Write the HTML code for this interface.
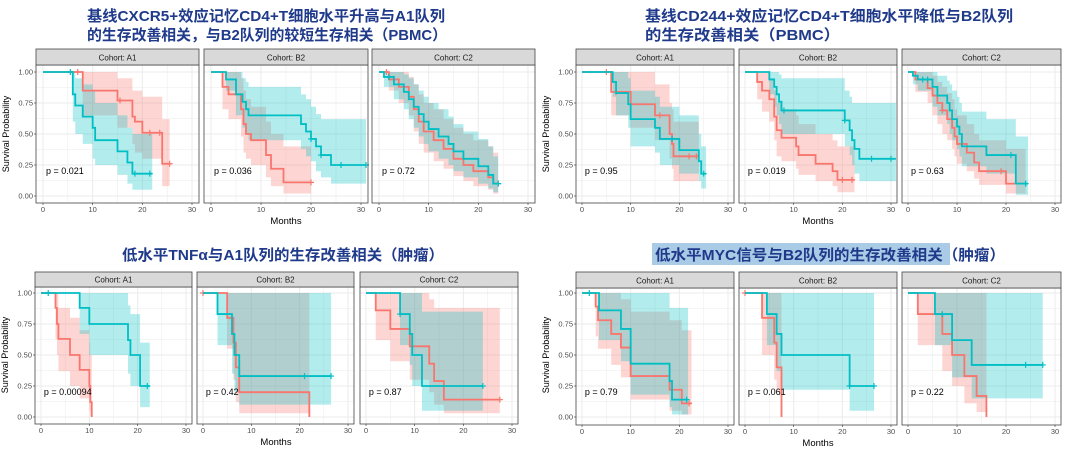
<!DOCTYPE html>
<html><head><meta charset="utf-8"><style>
body{margin:0;background:#fff}
svg{display:block}
</style></head><body>
<svg id="s" width="1080" height="451" xmlns="http://www.w3.org/2000/svg" font-family="Liberation Sans, sans-serif">
<rect width="1080" height="451" fill="#fff"/>
<rect x="652" y="243" width="298" height="22" fill="#a9cbe6"/>
<g font-family="Liberation Sans, 'Noto Sans CJK SC', sans-serif" font-weight="bold" font-size="15" fill="#1f3a8a">
<text x="87" y="21" textLength="358" lengthAdjust="spacingAndGlyphs">基线CXCR5+效应记忆CD4+T细胞水平升高与A1队列</text>
<text x="87" y="40" textLength="360" lengthAdjust="spacingAndGlyphs">的生存改善相关，与B2队列的较短生存相关（PBMC）</text>
<text x="645" y="21" textLength="368" lengthAdjust="spacingAndGlyphs">基线CD244+效应记忆CD4+T细胞水平降低与B2队列</text>
<text x="645" y="40" textLength="195" lengthAdjust="spacingAndGlyphs">的生存改善相关（PBMC）</text>
<text x="122" y="260" textLength="322" lengthAdjust="spacingAndGlyphs">低水平TNFα与A1队列的生存改善相关（肿瘤）</text>
<text x="655" y="260" textLength="350" lengthAdjust="spacingAndGlyphs">低水平MYC信号与B2队列的生存改善相关（肿瘤）</text>
</g>
<g id="g"></g>
</svg>
<script>
var NS="http://www.w3.org/2000/svg",G=document.getElementById('g'),out="";
function panel(L,R,st,sb,y1,y0,bot,lab,showY,pv,red,teal,dx){
 dx=dx||7;var x0=L+dx,x30=R-dx;
 var X=function(t){return x0+(x30-x0)*t/30},Y=function(s){return y0+(y1-y0)*s};
 var o="";
 o+='<rect x="'+L+'" y="'+sb+'" width="'+(R-L)+'" height="'+(bot-sb)+'" fill="#fff"/>';
 for(var t=0;t<=30;t+=5){o+='<line x1="'+X(t)+'" x2="'+X(t)+'" y1="'+sb+'" y2="'+bot+'" stroke="#ebebeb" stroke-width="'+(t%10?0.5:1)+'"/>';}
 for(var s=0;s<=1.001;s+=0.125){o+='<line x1="'+L+'" x2="'+R+'" y1="'+Y(s)+'" y2="'+Y(s)+'" stroke="#ebebeb" stroke-width="'+(Math.round(s*8)%2?0.5:1)+'"/>';}
 function band(c,col){var d=c.steps,e=c.end,up="",lo="";
  for(var i=0;i<d.length;i++){var a=d[i][0],b=i+1<d.length?d[i+1][0]:e;
   up+=(i?'L':'M')+X(a)+' '+Y(d[i][3])+'L'+X(b)+' '+Y(d[i][3]);}
  for(var i=d.length-1;i>=0;i--){var a=d[i][0],b=i+1<d.length?d[i+1][0]:e;
   lo+='L'+X(b)+' '+Y(d[i][2])+'L'+X(a)+' '+Y(d[i][2]);}
  return '<path d="'+up+lo+'Z" fill="'+col+'" fill-opacity="0.3"/>';}
 function line(c,col){var d=c.steps,e=c.end,p="";
  for(var i=0;i<d.length;i++){var a=d[i][0],b=i+1<d.length?d[i+1][0]:e;
   p+=(i?'L':'M')+X(a)+' '+Y(d[i][1])+'L'+X(b)+' '+Y(d[i][1]);}
  var r='<path d="'+p+'" fill="none" stroke="'+col+'" stroke-width="1.8"/>';
  (c.cens||[]).forEach(function(t){var s=1;for(var i=0;i<d.length;i++)if(d[i][0]<=t)s=d[i][1];
   r+='<path d="M'+(X(t)-3)+' '+Y(s)+'h6M'+X(t)+' '+(Y(s)-3)+'v6" stroke="'+col+'" stroke-width="1.2"/>';});
  return r;}
 o+=band(red,'#F8766D')+band(teal,'#00BFC4')+line(red,'#F8766D')+line(teal,'#00BFC4');
 o+='<rect x="'+L+'" y="'+sb+'" width="'+(R-L)+'" height="'+(bot-sb)+'" fill="none" stroke="#444" stroke-width="0.8"/>';
 o+='<rect x="'+L+'" y="'+st+'" width="'+(R-L)+'" height="'+(sb-st)+'" fill="#d9d9d9" stroke="#444" stroke-width="0.8"/>';
 o+='<text x="'+(L+R)/2+'" y="'+(sb-4.5)+'" font-size="8" fill="#1a1a1a" text-anchor="middle">Cohort: '+lab+'</text>';
 o+='<text x="'+X(0.6)+'" y="'+(Y(0.2)+3)+'" font-size="9" fill="#000">p = '+pv+'</text>';
 for(var t=0;t<=30;t+=10){o+='<line x1="'+X(t)+'" x2="'+X(t)+'" y1="'+bot+'" y2="'+(bot+2)+'" stroke="#333" stroke-width="0.6"/><text x="'+X(t)+'" y="'+(bot+9)+'" font-size="7.5" fill="#4d4d4d" text-anchor="middle">'+t+'</text>';}
 if(showY){["0.00","0.25","0.50","0.75","1.00"].forEach(function(l,i){o+='<line x1="'+(L-2)+'" x2="'+L+'" y1="'+Y(i/4)+'" y2="'+Y(i/4)+'" stroke="#333" stroke-width="0.6"/><text x="'+(L-3)+'" y="'+(Y(i/4)+2.5)+'" font-size="7.5" fill="#4d4d4d" text-anchor="end">'+l+'</text>';});
  o+='<text transform="translate('+(L-27)+','+(y0+y1)/2+') rotate(-90)" font-size="9" fill="#000" text-anchor="middle">Survival Probability</text>';}
 out+=o;}
function C(steps,end,cens){return{steps:steps,end:end,cens:cens};}
function months(x,y){out+='<text x="'+x+'" y="'+y+'" font-size="9.5" fill="#000" text-anchor="middle">Months</text>';}
// top-left
panel(36,199,49,65,72,196,203,"A1",1,"0.021",
 C([[0,1,1,1],[8,.85,.65,1],[15,.77,.55,.95],[18,.64,.42,.85],[18.5,.6,.35,.85],[20,.51,.3,.8],[24,.26,.08,.62]],25.5,[7,15.5,21.5,23.5,25.5]),
 C([[0,1,1,1],[6,.82,.6,1],[6.5,.73,.5,.95],[8,.64,.42,.9],[10,.55,.3,.85],[10.5,.45,.25,.75],[15,.36,.17,.65],[17,.27,.1,.55],[18,.18,.05,.5]],22,[5.5,18.5,21.5]));
panel(204,368,49,65,72,196,203,"B2",0,"0.036",
 C([[0,1,1,1],[2.3,.88,.7,1],[3.5,.82,.62,1],[6,.7,.48,.95],[6.5,.58,.35,.85],[7,.5,.3,.78],[8,.45,.25,.72],[11,.33,.15,.6],[12,.22,.08,.5],[14.5,.11,.02,.4]],20,[20]),
 C([[0,1,1,1],[3,.94,.85,1],[5,.82,.65,1],[6.3,.76,.55,.95],[7,.7,.5,.92],[7.5,.65,.45,.88],[18,.58,.38,.82],[19,.52,.32,.78],[20,.46,.28,.72],[21,.4,.2,.66],[22,.33,.15,.62],[24,.25,.1,.62]],31,[20,22,26,31]));
panel(372,535,49,65,72,196,203,"C2",0,"0.72",
 C([[0,1,1,1],[2,.94,.85,1],[4,.88,.75,1],[6,.8,.65,.96],[7,.7,.52,.9],[8,.6,.42,.82],[9,.52,.35,.75],[11,.45,.28,.7],[13,.38,.22,.62],[15,.3,.16,.55],[17,.25,.12,.5],[19,.2,.08,.45],[22,.15,.05,.4],[23,.1,.02,.35]],24,[1.5,24]),
 C([[0,1,1,1],[1,.96,.88,1],[3,.9,.78,1],[5,.84,.7,.98],[6,.78,.62,.95],[7,.72,.55,.9],[8,.66,.48,.85],[9,.6,.42,.8],[10,.54,.36,.75],[12,.48,.3,.7],[14,.42,.25,.64],[15,.36,.2,.58],[17,.3,.15,.52],[20,.24,.1,.46],[22,.17,.06,.4],[23,.1,.03,.32]],24,[2,24]));
months(286,224);
// top-right
panel(576,734,49,65,72,196,203,"A1",1,"0.95",
 C([[0,1,1,1],[6,.84,.65,1],[10,.74,.55,1],[15,.65,.45,.9],[18,.5,.3,.75],[18.5,.42,.22,.7],[18.8,.32,.12,.6]],24,[5,7,16,22,23.5]),
 C([[0,1,1,1],[6.3,.92,.8,1],[7,.83,.65,1],[9.5,.74,.55,.95],[10,.62,.4,.85],[15,.55,.35,.8],[16,.46,.25,.72],[20,.37,.18,.65],[24,.28,.12,.5],[24.5,.18,.06,.4]],25.5,[18.5,25]),6);
panel(739,897,49,65,72,196,203,"B2",0,"0.019",
 C([[0,1,1,1],[2.5,.92,.78,1],[3.5,.85,.68,1],[5,.78,.6,.95],[6,.64,.45,.85],[6.5,.53,.32,.75],[7.5,.47,.28,.7],[10.5,.4,.22,.65],[11,.33,.17,.58],[14.5,.26,.12,.5],[18,.2,.08,.45],[19,.13,.03,.4]],22.5,[20,22]),
 C([[0,1,1,1],[5,.94,.82,1],[6,.88,.72,1],[6.5,.82,.65,1],[7,.76,.58,.98],[7.5,.69,.5,.95],[20.5,.61,.4,.85],[21.5,.53,.33,.8],[22,.45,.25,.75],[22.5,.38,.18,.75],[23.5,.3,.12,.75]],31,[8,20.5,26,30]),6);
panel(902,1061,49,65,72,196,203,"C2",0,"0.63",
 C([[0,1,1,1],[1.5,.94,.84,1],[4,.87,.75,1],[5,.81,.65,.97],[6,.75,.58,.92],[7,.69,.5,.88],[8,.62,.45,.83],[9,.55,.38,.78],[9.5,.48,.32,.7],[10,.42,.26,.65],[12,.35,.2,.58],[13.5,.27,.14,.5],[14.5,.2,.09,.45],[20,.1,.02,.38]],24,[7,19]),
 C([[0,1,1,1],[1,.97,.9,1],[2,.94,.85,1],[5,.88,.72,1],[6,.81,.65,.97],[8,.75,.58,.93],[8.5,.69,.5,.9],[9,.62,.45,.85],[10,.56,.38,.8],[10.5,.5,.32,.75],[11,.4,.24,.68],[16,.33,.18,.62],[22,.1,.01,.48]],24.5,[3,4,21,24]),6);
months(818,224);
// bottom-left
panel(35,192,272,287,293,417,424,"A1",1,"0.00094",
 C([[0,1,1,1],[3,.88,.63,1],[3.3,.75,.5,1],[3.6,.63,.37,.88],[6,.5,.25,.8],[8,.38,.15,.7],[10,.25,.05,.6],[10.2,.12,.01,.5],[10.5,0,0,0]],10.5,[]),
 C([[0,1,1,1],[8,.88,.67,1],[10,.75,.5,1],[18,.62,.35,.9],[18.5,.5,.25,.83],[20.5,.25,.08,.6]],22.5,[1.5,22]),6);
panel(197,354,272,287,293,417,424,"B2",0,"0.42",
 C([[0,1,1,1],[5,.8,.55,1],[6.3,.6,.3,1],[6.8,.4,.12,1],[7.5,.2,.03,1],[22,0,0,0]],22,[0]),
 C([[0,1,1,1],[3,.83,.58,1],[6,.67,.35,1],[6.5,.5,.2,1],[7.5,.33,.1,1]],26.5,[21,26.5]),6);
panel(360,518,272,287,293,417,424,"C2",0,"0.87",
 C([[0,1,1,1],[2,.86,.62,1],[5,.71,.45,1],[9,.57,.3,1],[13,.43,.2,.95],[14,.29,.1,.88],[16,.14,.03,.88]],27.5,[27.5]),
 C([[0,1,1,1],[7,.83,.58,1],[9,.67,.42,1],[9.5,.5,.25,1],[11.5,.25,.05,.85]],24,[7,24]),6);
months(276,445);
// bottom-right
panel(576,734,272,288,293,417,425,"A1",1,"0.79",
 C([[0,1,1,1],[2.8,.89,.65,1],[3.3,.78,.55,1],[6,.67,.42,1],[8,.56,.32,.95],[10,.33,.14,.85],[18,.22,.05,.78],[20.5,.11,.02,.7]],22.5,[22]),
 C([[0,1,1,1],[3.5,.86,.62,1],[8,.71,.45,1],[10,.43,.18,1],[18,.29,.08,.88],[18.5,.14,.02,.88]],21.8,[1.5,21.5]),6);
panel(739,897,272,288,293,417,425,"B2",0,"0.061",
 C([[0,1,1,1],[3.5,.8,.5,1],[6,.6,.3,1],[6.5,.4,.2,1],[7.5,0,0,0]],7.5,[0]),
 C([[0,1,1,1],[4.5,.83,.58,1],[6.5,.67,.37,1],[7.5,.5,.22,1],[21.5,.25,.05,1]],26.5,[21.5,26.5]),6);
panel(902,1061,272,288,293,417,425,"C2",0,"0.22",
 C([[0,1,1,1],[2,.83,.58,1],[7,.67,.37,1],[9,.5,.25,1],[11.5,.33,.11,1],[14,.17,.04,1],[16,0,0,0]],16,[]),
 C([[0,1,1,1],[5.5,.83,.58,1],[9,.62,.32,1],[13,.42,.15,1]],27.5,[7,24,27.5]),6);
months(818,446);
G.innerHTML=out;
</script>
</body></html>
